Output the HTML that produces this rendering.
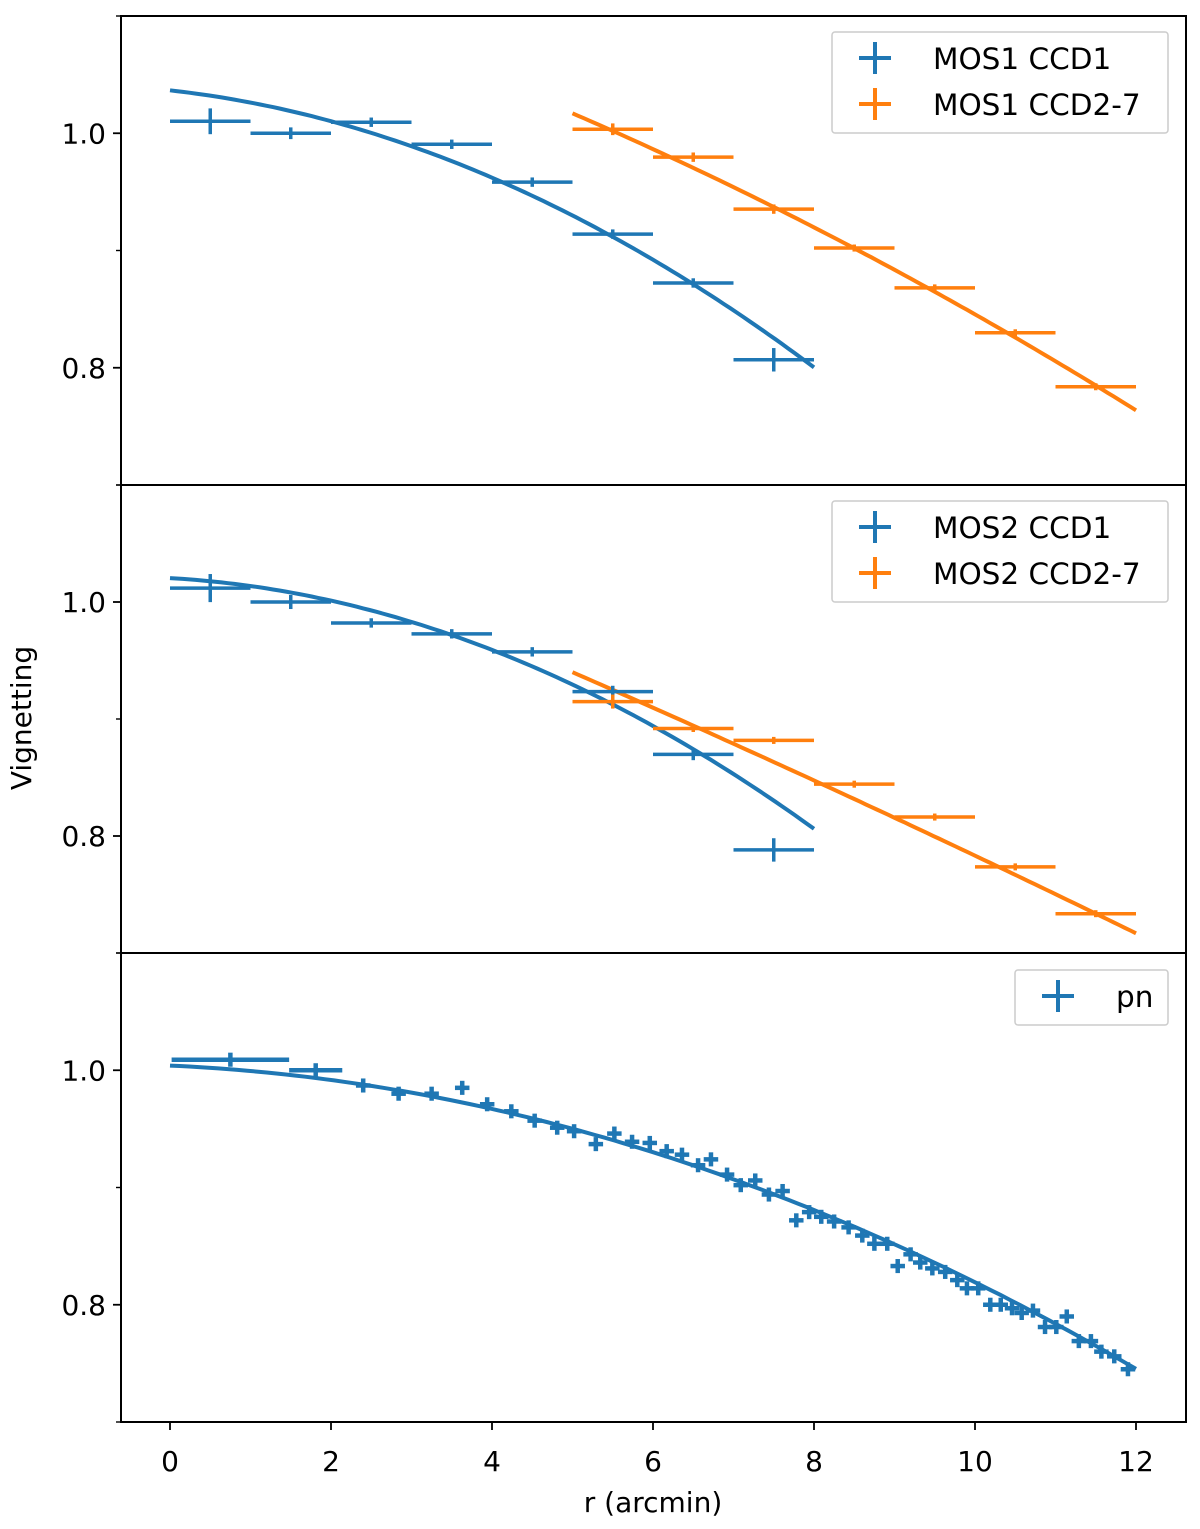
<!DOCTYPE html>
<html><head><meta charset="utf-8"><style>
body{margin:0;background:#fff}
svg{display:block;font-family:"DejaVu Sans","Liberation Sans",sans-serif}
</style></head><body>
<svg id="chart" width="1200" height="1529" viewBox="0 0 1200 1529"></svg>
<script>
// ---- data ----
const p1BlueX=[0.5,1.5,2.5,3.5,4.5,5.5,6.5,7.5];
const p1BlueY=[1.0102,1.000,1.0094,0.9906,0.9583,0.9140,0.8723,0.8068];
const p1BlueYerr=[0.011,0.005,0.004,0.004,0.004,0.004,0.004,0.010];
const p1OrX=[5.5,6.5,7.5,8.5,9.5,10.5,11.5];
const p1OrY=[1.0034,0.9796,0.9353,0.9021,0.8681,0.8298,0.7838];
const p1OrYerr=[0.005,0.004,0.004,0.003,0.003,0.003,0.003];
const p2BlueX=[0.5,1.5,2.5,3.5,4.5,5.5,6.5,7.5];
const p2BlueY=[1.0119,1.000,0.9821,0.9728,0.9574,0.9234,0.8698,0.7881];
const p2BlueYerr=[0.012,0.006,0.004,0.004,0.004,0.005,0.005,0.010];
const p2OrX=[5.5,6.5,7.5,8.5,9.5,10.5,11.5];
const p2OrY=[0.9149,0.8919,0.8817,0.8443,0.8162,0.7736,0.7336];
const p2OrYerr=[0.006,0.003,0.003,0.003,0.003,0.003,0.003];
const pnX=[0.75,1.81,2.40,2.84,3.25,3.63,3.94,4.24,4.53,4.81,5.02,5.29,5.52,5.74,5.96,6.17,6.36,6.56,6.72,6.92,7.09,7.27,7.44,7.61,7.78,7.94,8.09,8.25,8.43,8.60,8.75,8.91,9.04,9.20,9.32,9.47,9.63,9.78,9.90,10.04,10.19,10.32,10.46,10.58,10.72,10.87,11.01,11.14,11.29,11.44,11.57,11.73,11.90];
const pnY=[1.009,1.000,0.987,0.980,0.980,0.985,0.971,0.965,0.957,0.951,0.948,0.937,0.946,0.939,0.938,0.931,0.928,0.919,0.924,0.911,0.902,0.906,0.894,0.897,0.872,0.879,0.875,0.871,0.866,0.859,0.852,0.852,0.833,0.843,0.836,0.831,0.828,0.821,0.814,0.814,0.800,0.800,0.797,0.793,0.795,0.781,0.781,0.790,0.769,0.769,0.760,0.756,0.745];
const pnXerr=[0.73,0.33,0.09,0.09,0.09,0.09,0.09,0.09,0.09,0.09,0.09,0.09,0.09,0.09,0.09,0.09,0.09,0.09,0.09,0.09,0.09,0.09,0.09,0.09,0.09,0.09,0.09,0.09,0.09,0.09,0.09,0.09,0.09,0.09,0.09,0.09,0.09,0.09,0.09,0.09,0.09,0.09,0.09,0.09,0.09,0.09,0.09,0.09,0.09,0.09,0.09,0.09,0.09];
const fitP1Blue=[1.0366,-0.0077,-0.00273], fitP1BlueRange=[0,8];
const fitP1Or=[1.1415,-0.0202,-0.00094], fitP1OrRange=[5,12];
const fitP2Blue=[1.0204,-0.0039,-0.00286], fitP2BlueRange=[0,8];
const fitP2Or=[1.0838,-0.02746,-0.00026], fitP2OrRange=[5,12];
const fitPn=[1.004,-0.00308,-0.00154], fitPnRange=[0,12];
const xTicks=[0,2,4,6,8,10,12];
const yTicks=[0.8,1.0];
const yMinor=[0.7,0.9,1.1];

const BLUE='#1f77b4', ORANGE='#ff7f0e';
const NS='http://www.w3.org/2000/svg';
const svg=document.getElementById('chart');
const L=121,R=1186;
const sx=v=>170+v*80.5;
function mk(tag,attrs,parent){const e=document.createElementNS(NS,tag);for(const k in attrs)e.setAttribute(k,attrs[k]);(parent||svg).appendChild(e);return e;}
const panels=[{top:16,bot:485},{top:485,bot:953},{top:953,bot:1422}];
function syF(p){return v=>p.top+(1.1-v)*(p.bot-p.top)/0.4;}

function errbars(g,xs,ys,xe,ye,color,sy,name,w){
  xs.forEach((x,i)=>{
    const xer=Array.isArray(xe)?xe[i]:xe;
    const l1=mk('line',{x1:sx(x-xer),x2:sx(x+xer),y1:sy(ys[i]),y2:sy(ys[i]),stroke:color,'stroke-width':w},g);
    
    
    const l2=mk('line',{x1:sx(x),x2:sx(x),y1:sy(ys[i]+ye[i]),y2:sy(ys[i]-ye[i]),stroke:color,'stroke-width':w},g);
    
    
  });
}
function fit(g,c,rng,color,sy,name){
  let d='';
  for(let i=0;i<=100;i++){const x=rng[0]+(rng[1]-rng[0])*i/100;const y=c[0]+c[1]*x+c[2]*x*x;d+=(i?'L':'M')+sx(x).toFixed(1)+','+sy(y).toFixed(1);}
  const p=mk('path',{d:d,fill:'none',stroke:color,'stroke-width':4},g);
  
  
}
function axes(p,idx){
  const sy=syF(p);
  const g=mk('g',{});
  
  
  yTicks.forEach(t=>{
    mk('line',{x1:L-8,x2:L,y1:sy(t),y2:sy(t),stroke:'#000','stroke-width':1.8},g);
    const tx=mk('text',{x:L-15,y:sy(t)+10,'text-anchor':'end','font-size':28},g);
    tx.textContent=t.toFixed(1);
    
    
  });
  yMinor.forEach(t=>mk('line',{x1:L-5,x2:L,y1:sy(t),y2:sy(t),stroke:'#000','stroke-width':1.4},g));
  return {g,sy};
}
function legend(entries,x,y,w){
  const g=mk('g',{});
  
  
  mk('rect',{x:x,y:y,width:w,height:entries.length*46+9,rx:3,fill:'#fff',stroke:'#ccc','stroke-width':1.5},g);
  entries.forEach((e,i)=>{
    const cy=y+26+i*46;
    mk('line',{x1:x+27,x2:x+59,y1:cy,y2:cy,stroke:e[1],'stroke-width':4},g);
    mk('line',{x1:x+43,x2:x+43,y1:cy-16,y2:cy+16,stroke:e[1],'stroke-width':4},g);
    const t=mk('text',{x:x+101,y:cy+11,'font-size':29.5},g);
    t.textContent=e[0];
    
    
  });
}
// panel 1
let a=axes(panels[0],0);
fit(a.g,fitP1Blue,fitP1BlueRange,BLUE,a.sy,'fit-mos1-ccd1');
fit(a.g,fitP1Or,fitP1OrRange,ORANGE,a.sy,'fit-mos1-ccd2-7');
errbars(a.g,p1BlueX,p1BlueY,0.5,p1BlueYerr,BLUE,a.sy,'mos1-ccd1',3.5);
errbars(a.g,p1OrX,p1OrY,0.5,p1OrYerr,ORANGE,a.sy,'mos1-ccd2-7',3.5);
legend([['MOS1 CCD1',BLUE],['MOS1 CCD2-7',ORANGE]],832,32,336);
// panel 2
a=axes(panels[1],1);
fit(a.g,fitP2Blue,fitP2BlueRange,BLUE,a.sy,'fit-mos2-ccd1');
fit(a.g,fitP2Or,fitP2OrRange,ORANGE,a.sy,'fit-mos2-ccd2-7');
errbars(a.g,p2BlueX,p2BlueY,0.5,p2BlueYerr,BLUE,a.sy,'mos2-ccd1',3.5);
errbars(a.g,p2OrX,p2OrY,0.5,p2OrYerr,ORANGE,a.sy,'mos2-ccd2-7',3.5);
legend([['MOS2 CCD1',BLUE],['MOS2 CCD2-7',ORANGE]],832,501,336);
// panel 3
a=axes(panels[2],2);
fit(a.g,fitPn,fitPnRange,BLUE,a.sy,'fit-pn');
errbars(a.g,pnX,pnY,pnXerr,pnX.map(()=>0.006),BLUE,a.sy,'pn',4.5);
legend([['pn',BLUE]],1015,970,153);
// frames
panels.forEach((p,i)=>{
  const r=mk('rect',{x:L,y:p.top,width:R-L,height:p.bot-p.top,fill:'none',stroke:'#000','stroke-width':2});
  
  
});
// x ticks
xTicks.forEach(t=>{
  mk('line',{x1:sx(t),x2:sx(t),y1:1422,y2:1430,stroke:'#000','stroke-width':1.8});
  const tx=mk('text',{x:sx(t),y:1471,'text-anchor':'middle','font-size':28});
  tx.textContent=t;
  
  
});
const xl=mk('text',{x:653,y:1512,'text-anchor':'middle','font-size':28});
xl.textContent='r (arcmin)';


const yl=mk('text',{x:0,y:0,'text-anchor':'middle','font-size':28,transform:'translate(31,718) rotate(-90)'});
yl.textContent='Vignetting';


</script>
</body></html>
